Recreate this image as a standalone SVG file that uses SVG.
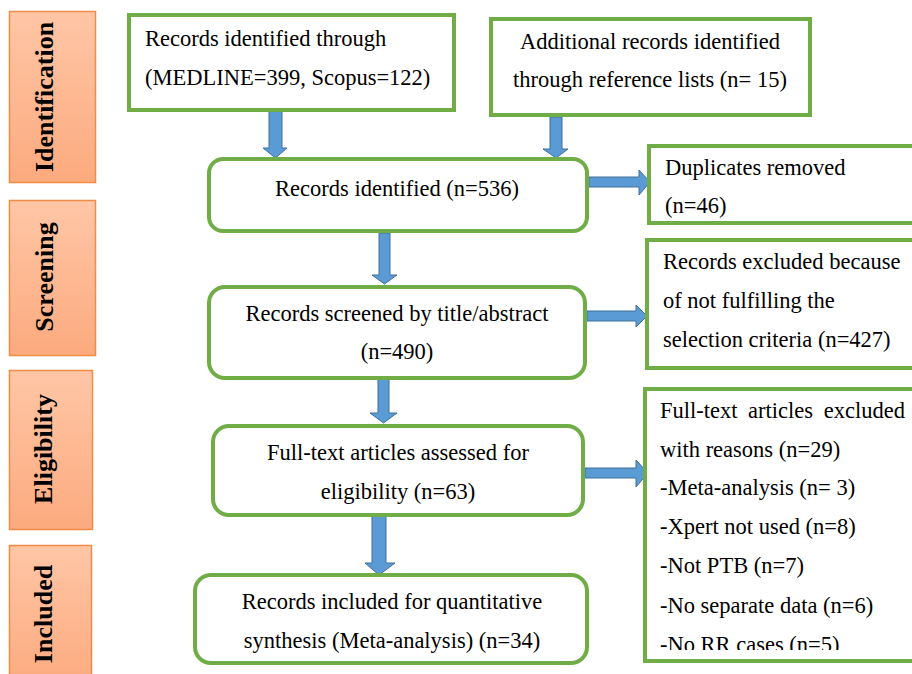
<svg xmlns="http://www.w3.org/2000/svg" width="912" height="674" viewBox="0 0 912 674">
<defs>
<linearGradient id="og" x1="0" y1="0" x2="0" y2="1">
<stop offset="0" stop-color="#FFC6A6"/>
<stop offset="1" stop-color="#FCAA7E"/>
</linearGradient>
<clipPath id="clip6"><rect x="640" y="385" width="280" height="265"/></clipPath>
<style>
.side{fill:url(#og);stroke:#F08C45;stroke-width:1.5}
.sideT{font-family:"Liberation Serif","Times New Roman",serif;font-weight:bold;font-size:26px;fill:#000;text-anchor:middle}
.box{fill:#fff;stroke:#70AD47;stroke-width:4}
.t{font-family:"Liberation Serif","Times New Roman",serif;font-size:22.5px;fill:#000}
.c{text-anchor:middle}
.arr{fill:#5B9BD5;stroke:#41719C;stroke-width:1}
</style>
</defs>
<rect width="912" height="674" fill="#fff"/>

<g id="stage-identification">
<rect class="side" x="9.5" y="11.5" width="86" height="171"/>
<text class="sideT" transform="translate(53,97) rotate(-90)">Identification</text>
</g>
<g id="stage-screening">
<rect class="side" x="9.5" y="200.5" width="86" height="155"/>
<text class="sideT" transform="translate(53,277) rotate(-90)">Screening</text>
</g>
<g id="stage-eligibility">
<rect class="side" x="9.5" y="370.5" width="83" height="159"/>
<text class="sideT" transform="translate(52,449) rotate(-90)">Eligibility</text>
</g>
<g id="stage-included">
<rect class="side" x="9.5" y="545.5" width="82" height="140"/>
<text class="sideT" transform="translate(52,614) rotate(-90)">Included</text>
</g>

<g id="connectors">
<polygon class="arr" points="269,110 282,110 282,148 287,148 275.5,158 263,148 269,148"/>
<polygon class="arr" points="550,117 562,117 562,149 568,149 556,158 543,149 550,149"/>
<polygon class="arr" points="589,177 639,177 639,170 650,182 639,195 639,187 589,187"/>
<polygon class="arr" points="379,233 390,233 390,275 397,275 384.5,284 372,275 379,275"/>
<polygon class="arr" points="587,311 636,311 636,305 647,316 636,327 636,321 587,321"/>
<polygon class="arr" points="378,379 389,379 389,413 397,413 383.5,423 370,413 378,413"/>
<polygon class="arr" points="585,468 636,468 636,460 648,473 636,487 636,478 585,478"/>
<polygon class="arr" points="372,516 386,516 386,563 395,563 379,575 365,563 372,563"/>
</g>

<g id="n1">
<rect class="box" x="129" y="15" width="325" height="95"/>
<text class="t" x="145" y="46">Records identified through</text>
<text class="t" x="145" y="85">(MEDLINE=399, Scopus=122)</text>
</g>
<g id="n2">
<rect class="box" x="491" y="19" width="319" height="96"/>
<text class="t c" x="650" y="49">Additional records identified</text>
<text class="t c" x="650" y="87">through reference lists (n= 15)</text>
</g>
<g id="n3">
<rect class="box" x="209" y="159" width="378" height="72" rx="14"/>
<text class="t c" x="397" y="196">Records identified (n=536)</text>
</g>
<g id="n4">
<rect class="box" x="649" y="146" width="290" height="77"/>
<text class="t" x="665" y="175">Duplicates removed</text>
<text class="t" x="665" y="213">(n=46)</text>
</g>
<g id="n5">
<rect class="box" x="647" y="240" width="290" height="128"/>
<text class="t" x="663" y="269">Records excluded because</text>
<text class="t" x="663" y="308">of not fulfilling the</text>
<text class="t" x="663" y="347">selection criteria (n=427)</text>
</g>
<g id="n6">
<rect class="box" x="645" y="389" width="290" height="272"/>
<g clip-path="url(#clip6)">
<text class="t" x="660" y="418" word-spacing="5">Full-text articles excluded</text>
<text class="t" x="660" y="457">with reasons (n=29)</text>
<text class="t" x="660" y="495">-Meta-analysis (n= 3)</text>
<text class="t" x="660" y="534">-Xpert not used (n=8)</text>
<text class="t" x="660" y="573">-Not PTB (n=7)</text>
<text class="t" x="660" y="613">-No separate data (n=6)</text>
<text class="t" x="660" y="652">-No RR cases (n=5)</text>
</g>
</g>
<g id="n7">
<rect class="box" x="209" y="287" width="376" height="91" rx="16"/>
<text class="t c" x="397" y="321">Records screened by title/abstract</text>
<text class="t c" x="397" y="359">(n=490)</text>
</g>
<g id="n8">
<rect class="box" x="213" y="426" width="370" height="89" rx="16"/>
<text class="t c" x="398" y="460">Full-text articles assessed for</text>
<text class="t c" x="398" y="499">eligibility (n=63)</text>
</g>
<g id="n9">
<rect class="box" x="195" y="575" width="392" height="88" rx="16"/>
<text class="t c" x="392" y="609">Records included for quantitative</text>
<text class="t c" x="392" y="648">synthesis (Meta-analysis) (n=34)</text>
</g>
</svg>
